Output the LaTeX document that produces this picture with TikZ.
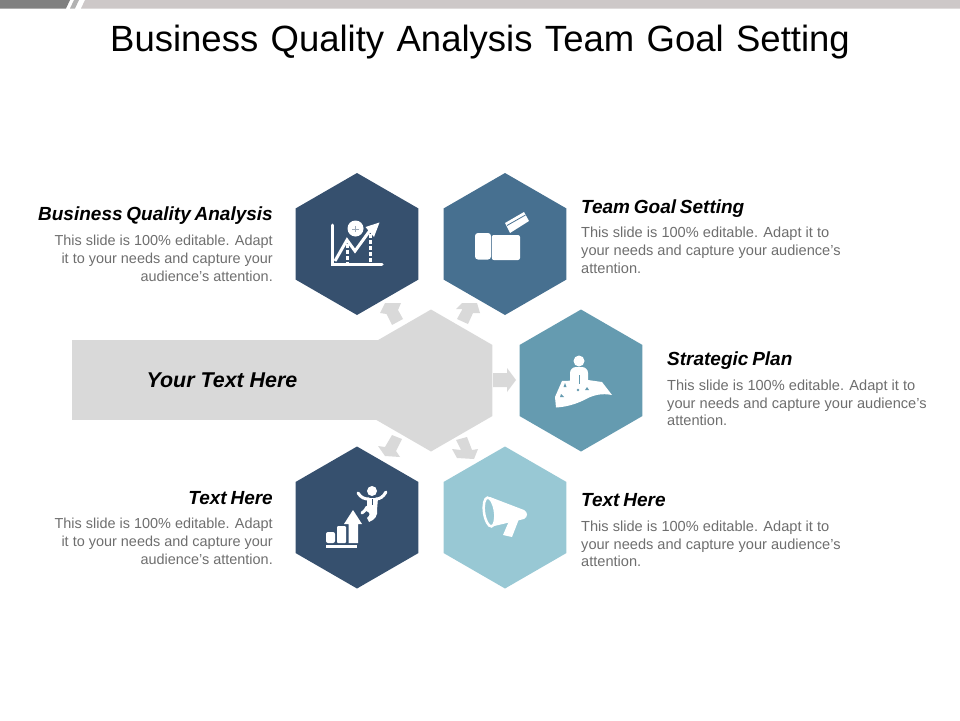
\documentclass[tikz,border=0pt]{standalone}
\usepackage{fontspec}
\setmainfont{Liberation Sans}
\usetikzlibrary{shapes.geometric}
\definecolor{navy}{HTML}{36506E}
\definecolor{steel}{HTML}{477090}
\definecolor{teal}{HTML}{659BB0}
\definecolor{pale}{HTML}{98C8D4}
\definecolor{hubgray}{HTML}{D9D9D9}
\definecolor{bodygray}{HTML}{6E6E6E}
\newcommand{\tightwords}[1]{\spaceskip=0.2em\relax #1}
\tikzset{
  hexa/.style={regular polygon,regular polygon sides=6,shape border rotate=30,minimum size=142pt,inner sep=0pt,outer sep=0pt,draw=none},
  headl/.style={inner sep=0pt,font=\fontsize{19}{21}\selectfont\bfseries\itshape,text=black},
  bodyr/.style={inner sep=0pt,align=right,font=\fontsize{14.45}{17.8}\selectfont,text=bodygray},
  bodyl/.style={inner sep=0pt,align=left,font=\fontsize{14.6}{17.8}\selectfont,text=bodygray},
  blockarrow/.style={fill=hubgray,draw=none},
  icon/.style={fill=white,draw=none},
  iconline/.style={draw=white,line width=3pt}
}
\begin{document}
\begin{tikzpicture}[x=1pt,y=-1pt]
\useasboundingbox (0,0) rectangle (960,720);
% top band
\fill[black!50] (0,0) -- (70,0) -- (66,8.5) -- (0,8.5) -- cycle;
\fill[black!30] (74,0) -- (79,0) -- (75,8.5) -- (70,8.5) -- cycle;
\fill[black!20!white!98!red] (85,0) -- (960,0) -- (960,8.5) -- (81,8.5) -- cycle;
% title
\node[inner sep=0pt,font=\fontsize{36.5}{40}\selectfont] (title) at (480,42) {\spaceskip=0.34em\relax Business Quality Analysis Team Goal Setting};
% hub
\fill[hubgray] (72,340) rectangle (380,420);
\node[hexa,fill=hubgray] (hub) at (431,380.5) {};
% block arrows
\fill[blockarrow] (392,325) -- (386.5,314) -- (380,313) -- (385,303) -- (401,303) -- (398,310) -- (403,319) -- cycle;
\fill[blockarrow] (457,319) -- (462.5,309) -- (456,309) -- (462,303) -- (477,303) -- (480,313) -- (473,313) -- (468,324) -- cycle;
\fill[blockarrow] (493,373) -- (507,373) -- (507,368) -- (516,380) -- (507,392) -- (507,387) -- (493,387) -- cycle;
\fill[blockarrow] (392,435) -- (402,439) -- (396,451) -- (400,457) -- (385,456) -- (378,446) -- (385,447) -- cycle;
\fill[blockarrow] (456,440) -- (467,437) -- (472,450) -- (478,449) -- (474,459) -- (457,458) -- (452,449) -- (461,450) -- cycle;
% hexagons
\node[hexa,fill=navy] (h1) at (357,244) {};
\node[hexa,fill=steel] (h2) at (505,244) {};
\node[hexa,fill=teal] (h3) at (581,380.5) {};
\node[hexa,fill=navy] (h4) at (357,517.5) {};
\node[hexa,fill=pale] (h5) at (505,517.5) {};
% icon 1: chart
\draw[iconline,line cap=round] (332.5,225) -- (332.5,264.5) -- (382,264.5);
\draw[iconline] (335,261) -- (347,240) -- (355,251) -- (371,229);
\fill[icon] (379.5,222.5) -- (365.5,227) -- (374,237) -- cycle;
\draw[white,line width=3pt,dash pattern=on 4pt off 2pt] (347,244) -- (347,263);
\draw[white,line width=3pt,dash pattern=on 4pt off 2pt] (370,234) -- (370,263);
\fill[icon] (355.5,228.5) circle (8);
\draw[navy!50!white,line width=.5pt] (352,229) -- (359,229) (355.5,226) -- (355.5,232);
% icon 2: wallet and card
\fill[icon,rounded corners=3pt] (475,233) rectangle (491,259.5);
\fill[icon,rounded corners=2pt] (491.8,235) rectangle (520,260);
\fill[icon] (505,223) -- (524,212) -- (529,221) -- (510,233) -- cycle;
\draw[steel,line width=.8pt] (507,225.5) -- (525.5,215);
% icon 3: person on carpet
\fill[icon] (579,361) circle (5.5);
\fill[icon,rounded corners=6pt] (570,388) -- (570,367) -- (588,367) -- (588,388) -- cycle;
\fill[icon] (562,381) -- (588,380) -- (602,382) -- (612,395) .. controls (602,393) and (594,395) .. (587,398.5) .. controls (577,404) and (566,407) .. (556,407.5) -- (555,397) -- cycle;
\fill[teal] (565,383) -- (566.5,387) -- (563.5,387) -- cycle;
\fill[teal] (578,390) circle (1.4);
\fill[teal] (587,387) -- (589,390) -- (585,390) -- cycle;
\fill[teal] (561,394) -- (564,397) -- (560,397) -- cycle;
\draw[teal,line width=.5pt] (579,375) -- (579,384);
% icon 4: bars and jumper
\fill[icon] (326,545) rectangle (357,548);
\fill[icon,rounded corners=2pt] (326,532) rectangle (335,543);
\fill[icon,rounded corners=1pt] (337,526) rectangle (346,543);
\fill[icon] (348.5,543) -- (348.5,524) -- (344,524) -- (353,510) -- (362,524) -- (358,524) -- (358,543) -- cycle;
\fill[icon] (372,491) circle (5);
\draw[white,line width=3pt,line cap=round] (358,493) .. controls (361,498) and (365,499) .. (369,499);
\draw[white,line width=3pt,line cap=round] (386,492) .. controls (383,497) and (380,499) .. (376,499);
\fill[icon] (367,498) -- (378,498) -- (377,510) .. controls (378,515) and (375,520) .. (369,522) -- (367,518) .. controls (371,515) and (370,512) .. (366,511) -- (367,507) -- cycle;
\draw[white,line width=3pt,line cap=round] (367,507) .. controls (365,511) and (364,511) .. (362,513);
\draw[navy,line width=.5pt] (372,499) -- (372,505);
% icon 5: megaphone
\fill[icon] (490,497) -- (524,510) .. controls (528,512) and (528,517) .. (524,519) -- (490,527) -- cycle;
\fill[icon] (509,521) -- (519,519) -- (512,537) -- (503,535) -- cycle;
\draw[draw=white,fill=pale,line width=2.5pt,rotate around={8:(489.5,512)}] (489.5,512) ellipse (5.5 and 14.5);
% texts
\node[headl,anchor=east] (t1) at (273,216) {\tightwords{Business Quality Analysis}};
\node[bodyr,anchor=north east] (b1) at (273,235) {This slide is 100\% editable. Adapt\\it to your needs and capture your\\audience's attention.};
\node[headl,anchor=west] (t2) at (581,209) {\tightwords{Team Goal Setting}};
\node[bodyl,anchor=north west] (b2) at (581,227) {This slide is 100\% editable. Adapt it to\\your needs and capture your audience's\\attention.};
\node[headl,anchor=west] (t3) at (667,361) {\tightwords{Strategic Plan}};
\node[bodyl,anchor=north west] (b3) at (667,379.5) {This slide is 100\% editable. Adapt it to\\your needs and capture your audience's\\attention.};
\node[headl,anchor=east] (t4) at (273,498) {\tightwords{Text Here}};
\node[bodyr,anchor=north east] (b4) at (273,518) {This slide is 100\% editable. Adapt\\it to your needs and capture your\\audience's attention.};
\node[headl,anchor=west] (t5) at (581,500) {\tightwords{Text Here}};
\node[bodyl,anchor=north west] (b5) at (581,520.5) {This slide is 100\% editable. Adapt it to\\your needs and capture your audience's\\attention.};
\node[inner sep=0pt,font=\fontsize{21.4}{23}\selectfont\bfseries\itshape] (hubtext) at (222,380.5) {Your Text Here};
\end{tikzpicture}
\end{document}
